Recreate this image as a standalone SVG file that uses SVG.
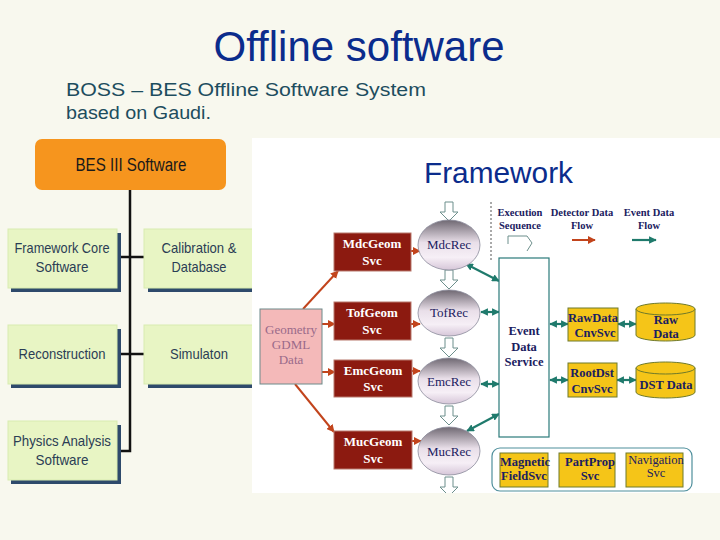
<svg xmlns="http://www.w3.org/2000/svg" xmlns:xlink="http://www.w3.org/1999/xlink" width="720" height="540" viewBox="0 0 720 540">
<style>
.title{font-family:"Liberation Sans",Arial,sans-serif;fill:#0b2c8c}
.sub{font-family:"Liberation Sans",Arial,sans-serif;font-size:18px;fill:#1d4d5e}
.org{font-family:"Liberation Sans",Arial,sans-serif;font-size:15px;fill:#2b3d55;text-anchor:middle}
.gbox{fill:#e8f5c4;stroke:#d8ebb0;stroke-width:1}
.shadow{fill:#2e4a6b}
.red{fill:#8c1a10;stroke:#b8786c;stroke-width:1}
.wt{font-family:"Liberation Serif","Times New Roman",serif;font-size:13px;fill:#ffffff;text-anchor:middle;font-weight:bold}
.nv{font-family:"Liberation Serif","Times New Roman",serif;font-size:13px;fill:#1a2060;text-anchor:middle}
.nvb{font-family:"Liberation Serif","Times New Roman",serif;font-size:12.5px;fill:#1a2060;text-anchor:middle;font-weight:bold}
.leg{font-family:"Liberation Serif","Times New Roman",serif;font-size:10.5px;fill:#1a2060;text-anchor:middle;font-weight:bold}
.yel{fill:#f5c518;stroke:#6f7a2a;stroke-width:1}
.rarr{stroke:#c2441c;stroke-width:2;fill:none}
.tarr{stroke:#1f7a6c;stroke-width:2.2;fill:none}
.hollow{fill:#ffffff;stroke:#6d8f8c;stroke-width:1}
</style>
<defs>
<linearGradient id="ellg" x1="0" y1="0" x2="0" y2="1">
<stop offset="0" stop-color="#6f6872"/>
<stop offset="0.45" stop-color="#e9dfe9"/>
<stop offset="0.75" stop-color="#f6eff6"/>
<stop offset="1" stop-color="#d6c6d8"/>
</linearGradient>
<marker id="mr" viewBox="0 0 10 10" refX="9" refY="5" markerWidth="4" markerHeight="4" orient="auto-start-reverse">
<path d="M0,0 L10,5 L0,10 Z" fill="#c2441c"/>
</marker>
<marker id="mt" viewBox="0 0 10 10" refX="9" refY="5" markerWidth="3.5" markerHeight="3.5" orient="auto-start-reverse">
<path d="M0,0 L10,5 L0,10 Z" fill="#1f7a6c"/>
</marker>
<path id="harrow" d="M-4,0 H4 V10 H9 L0,19 L-9,10 H-4 Z"/>
<clipPath id="fwclip"><rect x="252" y="138" width="468" height="355"/></clipPath>
</defs>

<rect x="0" y="0" width="720" height="540" fill="#f8f8ee"/>

<g id="heading">
<text class="title" x="359" y="61" font-size="42" text-anchor="middle">Offline software</text>
<text class="sub" x="66" y="96" textLength="360" lengthAdjust="spacingAndGlyphs">BOSS – BES Offline Software System</text>
<text class="sub" x="66" y="119" textLength="145" lengthAdjust="spacingAndGlyphs">based on Gaudi.</text>
</g>

<!-- Left org chart -->
<g id="org-connectors" stroke="#111111" stroke-width="2.5" fill="none">
<path d="M130,190 V451 H117"/>
<path d="M117,257 H144"/>
<path d="M117,354 H144"/>
</g>
<g id="bes3">
<rect x="35" y="139" width="191" height="51" rx="7" fill="#f6951e"/>
<text x="131" y="171" font-family="'Liberation Sans',Arial,sans-serif" font-size="18" fill="#1a1a1a" text-anchor="middle" textLength="111" lengthAdjust="spacingAndGlyphs">BES III Software</text>
</g>
<g id="fwcore">
<rect class="shadow" x="11" y="233" width="110" height="59"/>
<rect class="gbox" x="8" y="229" width="109" height="59"/>
<text class="org" x="62" y="253" textLength="95" lengthAdjust="spacingAndGlyphs">Framework Core</text>
<text class="org" x="62" y="272" textLength="53" lengthAdjust="spacingAndGlyphs">Software</text>
</g>
<g id="calib">
<rect class="shadow" x="148" y="233" width="110" height="59"/>
<rect class="gbox" x="144" y="229" width="112" height="59"/>
<text class="org" x="199" y="253" textLength="75" lengthAdjust="spacingAndGlyphs">Calibration &amp;</text>
<text class="org" x="199" y="272" textLength="55" lengthAdjust="spacingAndGlyphs">Database</text>
</g>
<g id="recon">
<rect class="shadow" x="11" y="329" width="110" height="59"/>
<rect class="gbox" x="8" y="325" width="109" height="59"/>
<text class="org" x="62" y="359" textLength="87" lengthAdjust="spacingAndGlyphs">Reconstruction</text>
</g>
<g id="sim">
<rect class="shadow" x="148" y="329" width="110" height="59"/>
<rect class="gbox" x="144" y="325" width="112" height="59"/>
<text class="org" x="199" y="359" textLength="58" lengthAdjust="spacingAndGlyphs">Simulaton</text>
</g>
<g id="physics">
<rect class="shadow" x="11" y="425" width="110" height="59"/>
<rect class="gbox" x="8" y="421" width="109" height="59"/>
<text class="org" x="62" y="446" textLength="98" lengthAdjust="spacingAndGlyphs">Physics Analysis</text>
<text class="org" x="62" y="465" textLength="53" lengthAdjust="spacingAndGlyphs">Software</text>
</g>

<!-- Framework panel -->
<g id="framework-panel">
<rect x="252" y="138" width="468" height="355" fill="#ffffff"/>
<text class="title" x="424" y="183" font-size="29" textLength="149" lengthAdjust="spacingAndGlyphs">Framework</text>
</g>

<g id="legend">
<line x1="491" y1="202" x2="491" y2="262" stroke="#555" stroke-width="1" stroke-dasharray="2,2"/>
<text class="leg" x="520" y="216">Execution</text>
<text class="leg" x="520" y="229">Sequence</text>
<path d="M508,244 V236 H527 L532,243 L527,251" fill="none" stroke="#6d8f8c" stroke-width="1"/>
<text class="leg" x="582" y="216">Detector Data</text>
<text class="leg" x="582" y="229">Flow</text>
<text class="leg" x="649" y="216">Event Data</text>
<text class="leg" x="649" y="229">Flow</text>
</g>

<g id="connectors">
<g clip-path="url(#fwclip)">
<use href="#harrow" x="449" y="202" class="hollow"/>
<use href="#harrow" x="449" y="270" class="hollow"/>
<use href="#harrow" x="449" y="338" class="hollow"/>
<use href="#harrow" x="449" y="406" class="hollow"/>
<use href="#harrow" x="449" y="477" class="hollow"/>
</g>
<line class="rarr" x1="572" y1="240" x2="595" y2="240" marker-end="url(#mr)"/>
<line class="tarr" x1="632" y1="240" x2="656" y2="240" marker-end="url(#mt)"/>
<!-- detector data flow -->
<line class="rarr" x1="303" y1="309" x2="338" y2="271" marker-end="url(#mr)"/>
<line class="rarr" x1="322" y1="324" x2="335" y2="324" marker-end="url(#mr)"/>
<line class="rarr" x1="322" y1="372" x2="335" y2="372" marker-end="url(#mr)"/>
<line class="rarr" x1="295" y1="384" x2="334" y2="432" marker-end="url(#mr)"/>
<line class="rarr" x1="411" y1="251" x2="420" y2="251" marker-end="url(#mr)"/>
<line class="rarr" x1="411" y1="324" x2="420" y2="324" marker-end="url(#mr)"/>
<line class="rarr" x1="412" y1="371" x2="420" y2="371" marker-end="url(#mr)"/>
<line class="rarr" x1="412" y1="441" x2="421" y2="441" marker-end="url(#mr)"/>
<!-- event data flow -->
<line class="tarr" x1="466" y1="264" x2="499" y2="281" marker-start="url(#mt)" marker-end="url(#mt)"/>
<line class="tarr" x1="481" y1="312" x2="499" y2="312" marker-start="url(#mt)" marker-end="url(#mt)"/>
<line class="tarr" x1="481" y1="384" x2="499" y2="384" marker-start="url(#mt)" marker-end="url(#mt)"/>
<line class="tarr" x1="467" y1="431" x2="499" y2="414" marker-start="url(#mt)" marker-end="url(#mt)"/>
<line class="tarr" x1="550" y1="324" x2="568" y2="324" marker-start="url(#mt)" marker-end="url(#mt)"/>
<line class="tarr" x1="618" y1="324" x2="636" y2="324" marker-start="url(#mt)" marker-end="url(#mt)"/>
<line class="tarr" x1="550" y1="380" x2="568" y2="380" marker-start="url(#mt)" marker-end="url(#mt)"/>
<line class="tarr" x1="617" y1="380" x2="636" y2="380" marker-start="url(#mt)" marker-end="url(#mt)"/>
</g>

<g id="geometry">
<rect x="260" y="309" width="62" height="75" fill="#f4b9b9" stroke="#6d8a8a" stroke-width="1"/>
<text class="nv" x="291" y="334" fill="#9a6a8a" style="fill:#9a6a8a" font-size="12">Geometry</text>
<text class="nv" x="291" y="349" style="fill:#9a6a8a" font-size="12">GDML</text>
<text class="nv" x="291" y="364" style="fill:#9a6a8a" font-size="12">Data</text>
</g>

<g id="mdcgeom">
<rect class="red" x="334" y="233" width="77" height="38"/>
<text class="wt" x="372" y="248">MdcGeom</text>
<text class="wt" x="372" y="265">Svc</text>
</g>
<g id="tofgeom">
<rect class="red" x="334" y="302" width="77" height="38"/>
<text class="wt" x="372" y="317">TofGeom</text>
<text class="wt" x="372" y="334">Svc</text>
</g>
<g id="emcgeom">
<rect class="red" x="334" y="360" width="78" height="37"/>
<text class="wt" x="373" y="375">EmcGeom</text>
<text class="wt" x="373" y="391">Svc</text>
</g>
<g id="mucgeom">
<rect class="red" x="334" y="431" width="78" height="38"/>
<text class="wt" x="373" y="446">MucGeom</text>
<text class="wt" x="373" y="463">Svc</text>
</g>

<g id="mdcrec">
<ellipse cx="449" cy="245" rx="31" ry="25" fill="url(#ellg)" stroke="#8a8a9a" stroke-width="0.8"/>
<text class="nv" x="449" y="249">MdcRec</text>
</g>
<g id="tofrec">
<ellipse cx="449" cy="313" rx="31" ry="23" fill="url(#ellg)" stroke="#8a8a9a" stroke-width="0.8"/>
<text class="nv" x="449" y="317">TofRec</text>
</g>
<g id="emcrec">
<ellipse cx="449" cy="381" rx="31" ry="23" fill="url(#ellg)" stroke="#8a8a9a" stroke-width="0.8"/>
<text class="nv" x="449" y="386">EmcRec</text>
</g>
<g id="mucrec">
<ellipse cx="449" cy="451" rx="31" ry="24" fill="url(#ellg)" stroke="#8a8a9a" stroke-width="0.8"/>
<text class="nv" x="449" y="456">MucRec</text>
</g>

<g id="eds">
<rect x="499" y="258" width="50" height="179" fill="#ffffff" stroke="#2a7a7a" stroke-width="1.2"/>
<text class="nvb" x="524" y="335">Event</text>
<text class="nvb" x="524" y="351">Data</text>
<text class="nvb" x="524" y="366">Service</text>
</g>

<g id="rawcnv">
<rect class="yel" x="568" y="308" width="50" height="33"/>
<text class="nvb" x="593" y="322">RawData</text>
<text class="nvb" x="595" y="337">CnvSvc</text>
</g>
<g id="rootcnv">
<rect class="yel" x="568" y="363" width="49" height="34"/>
<text class="nvb" x="592" y="377">RootDst</text>
<text class="nvb" x="592" y="393">CnvSvc</text>
</g>
<g id="rawdata">
<path d="M636,309 V335 A29.5,6 0 0 0 695,335 V309" class="yel"/>
<ellipse cx="665.5" cy="309" rx="29.5" ry="6" class="yel"/>
<text class="nvb" x="666" y="324">Raw</text>
<text class="nvb" x="666" y="338">Data</text>
</g>
<g id="dstdata">
<path d="M636,368 V392 A29.5,6 0 0 0 695,392 V368" class="yel"/>
<ellipse cx="665.5" cy="368" rx="29.5" ry="6" class="yel"/>
<text class="nvb" x="666" y="389">DST Data</text>
</g>

<g id="services">
<rect x="492" y="448" width="200" height="43" rx="8" fill="#ffffff" stroke="#4f8f9c" stroke-width="1.2"/>
</g>
<g id="magfield">
<rect class="yel" x="500" y="453" width="48" height="34"/>
<text class="nvb" x="525" y="466" font-size="11.5">Magnetic</text>
<text class="nvb" x="524" y="480" font-size="11.5">FieldSvc</text>
</g>
<g id="partprop">
<rect class="yel" x="559" y="453" width="56" height="34"/>
<text class="nvb" x="590" y="466" font-size="11.5">PartProp</text>
<text class="nvb" x="590" y="480" font-size="11.5">Svc</text>
</g>
<g id="navigation">
<rect class="yel" x="626" y="453" width="57" height="34"/>
<text class="nvb" x="656" y="464" font-size="11" style="font-weight:normal">Navigation</text>
<text class="nvb" x="656" y="477" font-size="11" style="font-weight:normal">Svc</text>
</g>
</svg>
